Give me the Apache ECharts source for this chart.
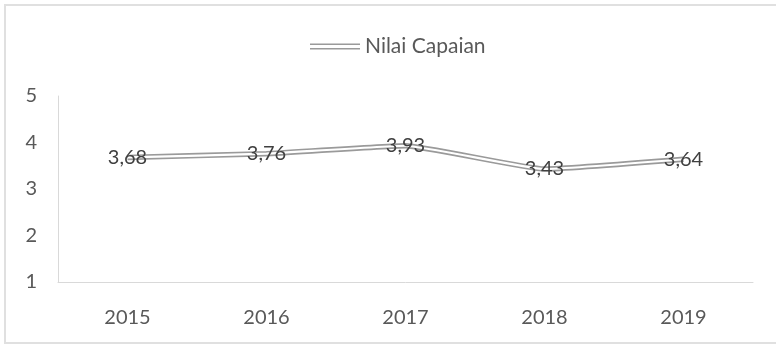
<!DOCTYPE html>
<html><head><meta charset="utf-8">
<script src="https://cdn.jsdelivr.net/npm/echarts@6/dist/echarts.min.js"></script>
<style>html,body{margin:0;padding:0;background:#fff}#c{width:776px;height:345px}</style>
</head><body><div id="c"></div>
<script>
const categories = ['2015','2016','2017','2018','2019'];
const values = [3.68, 3.76, 3.93, 3.43, 3.64];
const yTicks = [1, 2, 3, 4, 5];
const seriesName = 'Nilai Capaian';

const chart = echarts.init(document.getElementById('c'));
const FONT = 'Lato';
chart.setOption({
  animation: false,
  textStyle: { fontFamily: FONT },
  graphic: [{
    type: 'rect', shape: { x: 5, y: 5, width: 780, height: 338 },
    style: { fill: 'none', stroke: '#e0e0e0', lineWidth: 2 }, silent: true
  }],
  legend: {
    data: [seriesName], top: 31, left: 305,
    itemWidth: 50, itemHeight: 8, itemGap: 7,
    icon: 'path://M0,0 L50,0 L50,1.5 L0,1.5 Z M0,4.5 L50,4.5 L50,6 L0,6 Z',
    itemStyle: { color: '#9a9a9a' },
    textStyle: { color: '#595959', fontSize: 21, fontFamily: FONT }
  },
  grid: { left: 58, top: 96, width: 695, height: 186, containLabel: false },
  xAxis: {
    type: 'category', data: categories, boundaryGap: true,
    axisLine: { lineStyle: { color: '#d9d9d9', width: 1 } },
    axisTick: { show: false },
    axisLabel: { color: '#595959', fontSize: 20, margin: 26, fontFamily: FONT }
  },
  yAxis: {
    type: 'value', min: yTicks[0], max: yTicks[yTicks.length - 1], interval: 1,
    axisLine: { show: true, lineStyle: { color: '#d9d9d9', width: 1 } },
    axisTick: { show: false },
    splitLine: { show: false },
    axisLabel: { color: '#595959', fontSize: 20, margin: 21, fontFamily: FONT }
  },
  series: [{
    name: seriesName, type: 'line', data: values, smooth: 0.12,
    symbol: 'none', lineStyle: { color: '#9a9a9a', width: 5.5 },
    itemStyle: { color: '#9a9a9a' }, z: 2
  }, {
    name: seriesName, type: 'line', data: values, smooth: 0.12,
    symbol: 'circle', symbolSize: 1,
    itemStyle: { color: 'rgba(0,0,0,0)' },
    lineStyle: { color: '#ffffff', width: 2.2 }, z: 3,
    label: {
      show: true, position: 'inside', color: '#404040', fontSize: 20, fontFamily: FONT,
      formatter: p => p.value.toFixed(2).replace('.', ',')
    }
  }]
});
</script></body></html>
